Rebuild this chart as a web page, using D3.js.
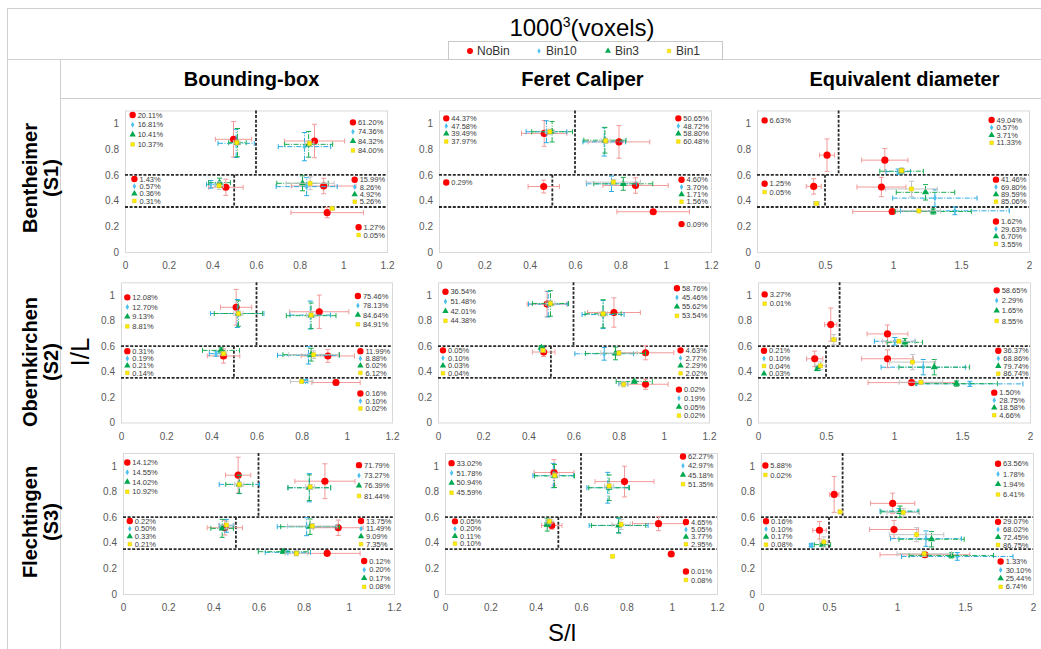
<!DOCTYPE html>
<html>
<head>
<meta charset="utf-8">
<script src="https://cdn.jsdelivr.net/npm/d3@7"></script>
<style>
  body { margin: 0; background: #fff; }
  svg { display: block; font-family: "Liberation Sans", Arial, sans-serif; }
</style>
</head>
<body>
<svg id="chart" width="1041" height="649"></svg>
<script>
// ---- data ----
const series = ['NoBin', 'Bin10', 'Bin3', 'Bin1'];
const methods = ['Bounding-box', 'Feret Caliper', 'Equivalent diameter'];
const samples = [['Bentheimer', '(S1)'], ['Obernkirchen', '(S2)'], ['Flechtingen', '(S3)']];
const xTicksBF = [0, 0.2, 0.4, 0.6, 0.8, 1, 1.2];
const xTicksED = [0, 0.5, 1, 1.5, 2];
const yTicks = [0, 0.2, 0.4, 0.6, 0.8, 1];

// [series, S/l, I/L, S/l error, I/L error]
const bbS1 = [
  [0, 0.497, 0.876, 0.083, 0.138], [1, 0.509, 0.845, 0.083, 0.11], [2, 0.515, 0.85, 0.04, 0.11], [3, 0.512, 0.85, 0.015, 0.02],
  [0, 0.868, 0.863, 0.138, 0.13], [1, 0.822, 0.819, 0.12, 0.11], [2, 0.841, 0.837, 0.11, 0.1], [3, 0.845, 0.845, 0.02, 0.02],
  [0, 0.462, 0.503, 0.079, 0.063], [1, 0.393, 0.526, 0.02, 0.03], [2, 0.433, 0.539, 0.05, 0.035], [3, 0.431, 0.516, 0.02, 0.03],
  [0, 0.91, 0.513, 0.148, 0.06], [1, 0.832, 0.508, 0.14, 0.07], [2, 0.813, 0.534, 0.118, 0.058], [3, 0.848, 0.534, 0.11, 0.05],
  [0, 0.926, 0.306, 0.166, 0.04], [3, 0.949, 0.339, 0.01, 0.01]
];
const fcS1 = [
  [0, 0.464, 0.922, 0.1, 0.1], [1, 0.474, 0.935, 0.09, 0.085], [2, 0.499, 0.935, 0.09, 0.08], [3, 0.489, 0.935, 0.02, 0.02],
  [0, 0.794, 0.856, 0.136, 0.127], [1, 0.729, 0.856, 0.094, 0.11], [2, 0.732, 0.869, 0.093, 0.1], [3, 0.735, 0.864, 0.02, 0.02],
  [0, 0.462, 0.509, 0.069, 0.05],
  [0, 0.867, 0.517, 0.144, 0.06], [1, 0.761, 0.53, 0.11, 0.06], [2, 0.813, 0.53, 0.13, 0.05], [3, 0.769, 0.543, 0.12, 0.02],
  [0, 0.945, 0.313, 0.16, 0.015]
];
const edS1 = [
  [0, 0.515, 0.753, 0.055, 0.126],
  [0, 0.94, 0.714, 0.17, 0.09], [1, 1.038, 0.625, 0.09, 0.02], [2, 1.063, 0.628, 0.16, 0.02], [3, 1.063, 0.633, 0.02, 0.02],
  [0, 0.417, 0.51, 0.055, 0.06], [3, 0.437, 0.378, 0.02, 0.01],
  [0, 0.915, 0.505, 0.18, 0.075], [1, 1.308, 0.419, 0.31, 0.065], [2, 1.239, 0.464, 0.215, 0.06], [3, 1.136, 0.49, 0.19, 0.06],
  [0, 0.994, 0.315, 0.29, 0.02], [1, 1.455, 0.32, 0.4, 0.03], [2, 1.296, 0.315, 0.28, 0.02], [3, 1.19, 0.32, 0.16, 0.015]
];
const bbS2 = [
  [0, 0.51, 0.904, 0.069, 0.14], [1, 0.515, 0.855, 0.118, 0.11], [2, 0.52, 0.855, 0.107, 0.1], [3, 0.52, 0.855, 0.02, 0.02],
  [0, 0.878, 0.869, 0.131, 0.131], [1, 0.838, 0.843, 0.09, 0.11], [2, 0.842, 0.838, 0.11, 0.1], [3, 0.842, 0.843, 0.02, 0.02],
  [0, 0.454, 0.522, 0.072, 0.056], [1, 0.421, 0.54, 0.03, 0.02], [2, 0.443, 0.566, 0.082, 0.02], [3, 0.454, 0.54, 0.015, 0.015],
  [0, 0.916, 0.522, 0.118, 0.05], [1, 0.83, 0.527, 0.137, 0.068], [2, 0.842, 0.532, 0.125, 0.05], [3, 0.853, 0.532, 0.11, 0.03],
  [0, 0.952, 0.314, 0.107, 0.02], [1, 0.817, 0.325, 0.01, 0.01], [3, 0.8, 0.322, 0.05, 0.01]
];
const fcS2 = [
  [0, 0.483, 0.929, 0.088, 0.1], [1, 0.488, 0.929, 0.087, 0.1], [2, 0.498, 0.934, 0.08, 0.1], [3, 0.498, 0.934, 0.02, 0.02],
  [0, 0.779, 0.863, 0.117, 0.115], [1, 0.731, 0.847, 0.093, 0.11], [2, 0.731, 0.853, 0.08, 0.11], [3, 0.731, 0.853, 0.02, 0.02],
  [0, 0.468, 0.553, 0.05, 0.035], [1, 0.461, 0.574, 0.01, 0.01], [2, 0.458, 0.587, 0.01, 0.01], [3, 0.465, 0.566, 0.01, 0.01],
  [0, 0.919, 0.547, 0.125, 0.055], [1, 0.736, 0.539, 0.13, 0.05], [2, 0.786, 0.542, 0.133, 0.05], [3, 0.801, 0.545, 0.08, 0.02],
  [0, 0.919, 0.3, 0.1, 0.04], [1, 0.82, 0.305, 0.02, 0.01], [2, 0.869, 0.321, 0.08, 0.01], [3, 0.822, 0.3, 0.02, 0.02]
];
const edS2 = [
  [0, 0.535, 0.768, 0.045, 0.13], [3, 0.557, 0.65, 0.02, 0.04],
  [0, 0.952, 0.695, 0.15, 0.07], [1, 1.006, 0.637, 0.15, 0.03], [2, 1.08, 0.629, 0.13, 0.03], [3, 1.036, 0.637, 0.12, 0.01],
  [0, 0.417, 0.5, 0.06, 0.06], [1, 0.44, 0.43, 0.01, 0.01], [2, 0.437, 0.421, 0.01, 0.01], [3, 0.459, 0.445, 0.04, 0.03],
  [0, 0.952, 0.5, 0.19, 0.07], [1, 1.215, 0.434, 0.31, 0.06], [2, 1.296, 0.434, 0.26, 0.06], [3, 1.136, 0.474, 0.17, 0.06],
  [0, 1.129, 0.313, 0.32, 0.02], [1, 1.558, 0.303, 0.39, 0.02], [2, 1.46, 0.305, 0.3, 0.02], [3, 1.198, 0.316, 0.16, 0.015]
];
const bbS3 = [
  [0, 0.51, 0.927, 0.056, 0.14], [1, 0.515, 0.855, 0.089, 0.072], [2, 0.515, 0.855, 0.06, 0.07], [3, 0.515, 0.855, 0.02, 0.02],
  [0, 0.894, 0.88, 0.133, 0.136], [1, 0.825, 0.829, 0.094, 0.11], [2, 0.825, 0.829, 0.095, 0.1], [3, 0.829, 0.836, 0.02, 0.02],
  [0, 0.451, 0.517, 0.078, 0.057], [1, 0.458, 0.532, 0.03, 0.05], [2, 0.439, 0.512, 0.05, 0.07], [3, 0.458, 0.538, 0.035, 0.03],
  [0, 0.953, 0.517, 0.11, 0.06], [1, 0.813, 0.525, 0.13, 0.07], [2, 0.828, 0.525, 0.13, 0.06], [3, 0.838, 0.53, 0.11, 0.02],
  [0, 0.904, 0.317, 0.146, 0.02], [1, 0.73, 0.325, 0.1, 0.01], [2, 0.709, 0.33, 0.11, 0.01], [3, 0.768, 0.317, 0.05, 0.02]
];
const fcS3 = [
  [0, 0.481, 0.948, 0.088, 0.1], [1, 0.478, 0.924, 0.09, 0.095], [2, 0.483, 0.921, 0.088, 0.09], [3, 0.484, 0.924, 0.02, 0.02],
  [0, 0.792, 0.877, 0.13, 0.12], [1, 0.718, 0.829, 0.092, 0.12], [2, 0.724, 0.829, 0.09, 0.1], [3, 0.724, 0.843, 0.02, 0.02],
  [0, 0.471, 0.535, 0.045, 0.03], [1, 0.456, 0.554, 0.01, 0.02], [2, 0.451, 0.541, 0.01, 0.05], [3, 0.461, 0.567, 0.015, 0.02],
  [0, 0.942, 0.549, 0.115, 0.055], [1, 0.766, 0.535, 0.13, 0.055], [2, 0.766, 0.535, 0.12, 0.06], [3, 0.777, 0.543, 0.04, 0.04],
  [0, 0.998, 0.312, 0, 0], [3, 0.739, 0.294, 0, 0]
];
const edS3 = [
  [0, 0.538, 0.777, 0.035, 0.14], [3, 0.582, 0.641, 0.01, 0.01],
  [0, 0.968, 0.707, 0.163, 0.08], [1, 1.015, 0.647, 0.14, 0.02], [2, 1.022, 0.641, 0.14, 0.045], [3, 1.046, 0.636, 0.12, 0.03],
  [0, 0.43, 0.497, 0.05, 0.068], [1, 0.369, 0.38, 0.01, 0.01], [2, 0.452, 0.385, 0.06, 0.01], [3, 0.462, 0.406, 0.03, 0.04],
  [0, 0.978, 0.503, 0.18, 0.07], [1, 1.213, 0.432, 0.26, 0.06], [2, 1.254, 0.427, 0.24, 0.06], [3, 1.144, 0.463, 0.2, 0.055],
  [0, 1.205, 0.306, 0.33, 0.02], [1, 1.443, 0.293, 0.41, 0.03], [2, 1.4, 0.301, 0.31, 0.02], [3, 1.2, 0.314, 0.2, 0.02]
];

// percentage of particles per class: [region, series, text]
const bbS1Pct = [
  ['UL', 0, '20.11%'], ['UL', 1, '16.81%'], ['UL', 2, '10.41%'], ['UL', 3, '10.37%'],
  ['UR', 0, '61.20%'], ['UR', 1, '74.36%'], ['UR', 2, '84.32%'], ['UR', 3, '84.00%'],
  ['ML', 0, '1.43%'], ['ML', 1, '0.57%'], ['ML', 2, '0.36%'], ['ML', 3, '0.31%'],
  ['MR', 0, '15.99%'], ['MR', 1, '8.26%'], ['MR', 2, '4.92%'], ['MR', 3, '5.26%'],
  ['LR', 0, '1.27%'], ['LR', 3, '0.05%']
];
const fcS1Pct = [
  ['UL', 0, '44.37%'], ['UL', 1, '47.58%'], ['UL', 2, '39.49%'], ['UL', 3, '37.97%'],
  ['UR', 0, '50.65%'], ['UR', 1, '48.72%'], ['UR', 2, '58.80%'], ['UR', 3, '60.48%'],
  ['ML', 0, '0.29%'],
  ['MR', 0, '4.60%'], ['MR', 1, '3.70%'], ['MR', 2, '1.71%'], ['MR', 3, '1.56%'],
  ['LR', 0, '0.09%']
];
const edS1Pct = [
  ['UL', 0, '6.63%'],
  ['UR', 0, '49.04%'], ['UR', 1, '0.57%'], ['UR', 2, '3.71%'], ['UR', 3, '11.33%'],
  ['ML', 0, '1.25%'], ['ML', 3, '0.05%'],
  ['MR', 0, '41.46%'], ['MR', 1, '69.80%'], ['MR', 2, '89.59%'], ['MR', 3, '85.06%'],
  ['LR', 0, '1.62%'], ['LR', 1, '29.63%'], ['LR', 2, '6.70%'], ['LR', 3, '3.55%']
];
const bbS2Pct = [
  ['UL', 0, '12.08%'], ['UL', 1, '12.70%'], ['UL', 2, '9.13%'], ['UL', 3, '8.81%'],
  ['UR', 0, '75.46%'], ['UR', 1, '78.13%'], ['UR', 2, '84.64%'], ['UR', 3, '84.91%'],
  ['ML', 0, '0.31%'], ['ML', 1, '0.19%'], ['ML', 2, '0.21%'], ['ML', 3, '0.14%'],
  ['MR', 0, '11.99%'], ['MR', 1, '8.88%'], ['MR', 2, '6.02%'], ['MR', 3, '6.12%'],
  ['LR', 0, '0.16%'], ['LR', 1, '0.10%'], ['LR', 3, '0.02%']
];
const fcS2Pct = [
  ['UL', 0, '36.54%'], ['UL', 1, '51.48%'], ['UL', 2, '42.01%'], ['UL', 3, '44.38%'],
  ['UR', 0, '58.76%'], ['UR', 1, '45.46%'], ['UR', 2, '55.62%'], ['UR', 3, '53.54%'],
  ['ML', 0, '0.05%'], ['ML', 1, '0.10%'], ['ML', 2, '0.03%'], ['ML', 3, '0.04%'],
  ['MR', 0, '4.63%'], ['MR', 1, '2.77%'], ['MR', 2, '2.29%'], ['MR', 3, '2.02%'],
  ['LR', 0, '0.02%'], ['LR', 1, '0.19%'], ['LR', 2, '0.05%'], ['LR', 3, '0.02%']
];
const edS2Pct = [
  ['UL', 0, '3.27%'], ['UL', 3, '0.01%'],
  ['UR', 0, '58.65%'], ['UR', 1, '2.29%'], ['UR', 2, '1.65%'], ['UR', 3, '8.55%'],
  ['ML', 0, '0.21%'], ['ML', 1, '0.10%'], ['ML', 3, '0.04%'], ['ML', 2, '0.03%'],
  ['MR', 0, '36.37%'], ['MR', 1, '68.86%'], ['MR', 2, '79.74%'], ['MR', 3, '86.74%'],
  ['LR', 0, '1.50%'], ['LR', 1, '28.75%'], ['LR', 2, '18.58%'], ['LR', 3, '4.66%']
];
const bbS3Pct = [
  ['UL', 0, '14.12%'], ['UL', 1, '14.55%'], ['UL', 2, '14.02%'], ['UL', 3, '10.92%'],
  ['UR', 0, '71.79%'], ['UR', 1, '73.27%'], ['UR', 2, '76.39%'], ['UR', 3, '81.44%'],
  ['ML', 0, '0.22%'], ['ML', 1, '0.50%'], ['ML', 2, '0.33%'], ['ML', 3, '0.21%'],
  ['MR', 0, '13.75%'], ['MR', 1, '11.49%'], ['MR', 2, '9.09%'], ['MR', 3, '7.35%'],
  ['LR', 0, '0.12%'], ['LR', 1, '0.20%'], ['LR', 2, '0.17%'], ['LR', 3, '0.08%']
];
const fcS3Pct = [
  ['UL', 0, '33.02%'], ['UL', 1, '51.78%'], ['UL', 2, '50.94%'], ['UL', 3, '45.59%'],
  ['UR', 0, '62.27%'], ['UR', 1, '42.97%'], ['UR', 2, '45.18%'], ['UR', 3, '51.35%'],
  ['ML', 0, '0.05%'], ['ML', 1, '0.20%'], ['ML', 2, '0.11%'], ['ML', 3, '0.10%'],
  ['MR', 0, '4.65%'], ['MR', 1, '5.05%'], ['MR', 2, '3.77%'], ['MR', 3, '2.95%'],
  ['LR', 0, '0.01%'], ['LR', 3, '0.08%']
];
const edS3Pct = [
  ['UL', 0, '5.88%'], ['UL', 3, '0.02%'],
  ['UR', 0, '63.56%'], ['UR', 1, '1.78%'], ['UR', 2, '1.94%'], ['UR', 3, '6.41%'],
  ['ML', 0, '0.16%'], ['ML', 1, '0.10%'], ['ML', 2, '0.17%'], ['ML', 3, '0.08%'],
  ['MR', 0, '29.07%'], ['MR', 1, '68.02%'], ['MR', 2, '72.45%'], ['MR', 3, '86.75%'],
  ['LR', 0, '1.33%'], ['LR', 1, '30.10%'], ['LR', 2, '25.44%'], ['LR', 3, '6.74%']
];

// ---- layout ----
// label block anchors per region, in data units: [x, first y, line step]
const pctLayout = [
  [ // S1
    {UL: [0.035, 1.065, 0.076], UR: [1.044, 1.008, 0.073], ML: [0.043, 0.568, 0.057], MR: [1.052, 0.562, 0.057], LR: [1.07, 0.192, 0.06]},
    {UL: [0.032, 1.039, 0.06], UR: [1.056, 1.039, 0.06], ML: [0.032, 0.54, 0.05], MR: [1.07, 0.562, 0.057], LR: [1.07, 0.217, 0.06]},
    {UL: [0.056, 1.023, 0.06], UR: [1.725, 1.026, 0.059], ML: [0.056, 0.531, 0.065], MR: [1.757, 0.5625, 0.057], LR: [1.757, 0.237, 0.058]}
  ],
  [ // S2
    {UL: [0.028, 0.982, 0.076], UR: [1.049, 0.992, 0.074], ML: [0.028, 0.56, 0.057], MR: [1.06, 0.56, 0.057], LR: [1.06, 0.228, 0.059]},
    {UL: [0.033, 1.026, 0.076], UR: [1.058, 1.053, 0.072], ML: [0.022, 0.566, 0.06], MR: [1.074, 0.566, 0.06], LR: [1.067, 0.258, 0.068]},
    {UL: [0.049, 1.005, 0.073], UR: [1.755, 1.037, 0.08], ML: [0.044, 0.563, 0.06], MR: [1.767, 0.563, 0.06], LR: [1.737, 0.234, 0.059]}
  ],
  [ // S3
    {UL: [0.019, 1.026, 0.076], UR: [1.045, 1.005, 0.08], ML: [0.03, 0.569, 0.06], MR: [1.054, 0.569, 0.06], LR: [1.068, 0.257, 0.067]},
    {UL: [0.029, 1.021, 0.077], UR: [1.05, 1.073, 0.072], ML: [0.044, 0.567, 0.058], MR: [1.063, 0.562, 0.058], LR: [1.063, 0.176, 0.066]},
    {UL: [0.032, 1.003, 0.074], UR: [1.743, 1.016, 0.08], ML: [0.037, 0.568, 0.061], MR: [1.743, 0.563, 0.06], LR: [1.762, 0.254, 0.066]}
  ]
];

const grid = [
  [bbS1, fcS1, edS1],
  [bbS2, fcS2, edS2],
  [bbS3, fcS3, edS3]
];
const gridPct = [
  [bbS1Pct, fcS1Pct, edS1Pct],
  [bbS2Pct, fcS2Pct, edS2Pct],
  [bbS3Pct, fcS3Pct, edS3Pct]
];

const plotLeft = [[125, 439, 757], [121, 438, 758], [123, 445, 761]];
const plotRight = [[387, 711, 1029], [392, 709, 1030], [394, 717, 1033]];
const plotTop = [110.5, 282.3, 453];
const plotBottom = [252, 422.5, 594];

const markerType = [d3.symbolCircle, d3.symbolDiamond, d3.symbolTriangle, d3.symbolSquare];
const markerSize = [40, 13, 22, 16];
const markerFill = ['#ff0000', '#4fc1ef', '#00a84f', '#ffee00'];
const markerStroke = ['none', 'none', 'none', '#d8c400'];
const errColor = ['#f29a9a', '#29abe2', '#19ad50', '#c4c4c4'];
const errDash = [null, '5,1.5,1,1.5', '5,1.5,1,1.5', null];

const svg = d3.select('#chart');
const lineColor = '#cfcfcf';

// ---- frame ----
const frame = svg.append('g').attr('stroke', lineColor).attr('fill', 'none');
frame.append('path').attr('d', 'M7,8.5H1041 M7,59.5H1041 M60,98.5H1041 M7.5,8V649 M60.5,59V649');

// ---- title & legend ----
const title = svg.append('text').attr('x', 582).attr('y', 36)
  .attr('text-anchor', 'middle').attr('font-size', 24).attr('fill', '#000');
title.append('tspan').text('1000');
title.append('tspan').attr('dy', -9).attr('font-size', 14).text('3');
title.append('tspan').attr('dy', 9).text('(voxels)');

svg.append('rect').attr('x', 448.5).attr('y', 41.5).attr('width', 274).attr('height', 18)
  .attr('fill', '#fff').attr('stroke', '#c8c8c8');
const legendX = [470, 539, 608, 669];
series.forEach((s, i) => {
  const g = svg.append('g').attr('transform', `translate(${legendX[i]},51)`);
  g.append('path').attr('d', d3.symbol().type(markerType[i]).size(markerSize[i] * 0.7)())
    .attr('fill', markerFill[i]).attr('stroke', markerStroke[i]).attr('stroke-width', 0.5);
  g.append('text').attr('x', 7).attr('dy', '0.35em').attr('font-size', 12)
    .attr('fill', '#333').text(s);
});

// ---- column and row headers ----
const headerX = [251.5, 582.5, 904.5];
methods.forEach((m, i) => {
  svg.append('text').attr('x', headerX[i]).attr('y', 86).attr('text-anchor', 'middle')
    .attr('font-size', 20).attr('font-weight', 'bold').attr('fill', '#000').text(m);
});
const rowCenter = [178, 362, 522];
samples.forEach((s, i) => {
  const t = svg.append('text').attr('transform', `translate(37,${rowCenter[i]}) rotate(-90)`)
    .attr('text-anchor', 'middle').attr('font-size', 20).attr('font-weight', 'bold').attr('fill', '#000');
  t.append('tspan').attr('x', 0).attr('y', 0).text(s[0]);
  t.append('tspan').attr('x', 0).attr('y', 21).text(s[1]);
});

svg.append('text').attr('transform', 'translate(89,352) rotate(-90)').attr('text-anchor', 'middle')
  .attr('font-size', 26).attr('fill', '#000').text('I/L');
svg.append('text').attr('x', 562).attr('y', 641).attr('text-anchor', 'middle')
  .attr('font-size', 24).attr('fill', '#000').text('S/l');

// ---- panels ----
grid.forEach((row, r) => {
  row.forEach((points, c) => {
    const isED = c === 2;
    const x = d3.scaleLinear().domain([0, isED ? 2 : 1.2]).range([plotLeft[r][c], plotRight[r][c]]);
    const y = d3.scaleLinear().domain([0, 1.1]).range([plotBottom[r], plotTop[r]]);
    const g = svg.append('g');

    g.append('rect').attr('x', x(0) + 0.5).attr('y', y(1.1) + 0.5)
      .attr('width', x.range()[1] - x.range()[0]).attr('height', y(0) - y(1.1))
      .attr('fill', 'none').attr('stroke', '#d9d9d9');

    const xAxis = g.append('g').attr('transform', `translate(0,${y(0)})`)
      .call(d3.axisBottom(x).tickValues(isED ? xTicksED : xTicksBF).tickSize(0).tickPadding(10)
        .tickFormat(d3.format('~g')));
    const yAxis = g.append('g').attr('transform', `translate(${x(0)},0)`)
      .call(d3.axisLeft(y).tickValues(yTicks).tickSize(0).tickPadding(6).tickFormat(d3.format('~g')));
    [xAxis, yAxis].forEach(a => {
      a.select('.domain').remove();
      a.selectAll('text').attr('font-size', 10).attr('fill', '#595959')
        .attr('font-family', '"Liberation Sans", Arial, sans-serif');
    });

    // class boundaries
    const dash = g.append('g').attr('stroke', '#2b2b2b').attr('stroke-width', 1.8)
      .attr('stroke-dasharray', '3,1.6').attr('fill', 'none');
    dash.append('line').attr('x1', x(0)).attr('x2', x.range()[1]).attr('y1', y(0.6)).attr('y2', y(0.6));
    dash.append('line').attr('x1', x(0)).attr('x2', x.range()[1]).attr('y1', y(0.35)).attr('y2', y(0.35));
    dash.append('line').attr('x1', x(0.6)).attr('x2', x(0.6)).attr('y1', y(1.1)).attr('y2', y(0.6));
    dash.append('line').attr('x1', x(0.5)).attr('x2', x(0.5)).attr('y1', y(0.6)).attr('y2', y(0.35));

    // error bars then markers, series by series
    series.forEach((s, si) => {
      const pts = points.filter(p => p[0] === si);
      const eb = g.append('g').attr('stroke', errColor[si]).attr('stroke-width', 1).attr('fill', 'none');
      pts.forEach(p => {
        const [, px, py, ex, ey] = p;
        const line = eb.append('g').attr('stroke-dasharray', errDash[si]);
        if (ex > 0) {
          line.append('line').attr('x1', x(px - ex)).attr('x2', x(px + ex)).attr('y1', y(py)).attr('y2', y(py));
          [px - ex, px + ex].forEach(v => eb.append('line').attr('x1', x(v)).attr('x2', x(v))
            .attr('y1', y(py) - 2.5).attr('y2', y(py) + 2.5));
        }
        if (ey > 0) {
          line.append('line').attr('x1', x(px)).attr('x2', x(px)).attr('y1', y(py - ey)).attr('y2', y(py + ey));
          [py - ey, py + ey].forEach(v => eb.append('line').attr('x1', x(px) - 2.5).attr('x2', x(px) + 2.5)
            .attr('y1', y(v)).attr('y2', y(v)));
        }
      });
      g.append('g').selectAll('path').data(pts).join('path')
        .attr('transform', p => `translate(${x(p[1])},${y(p[2])})`)
        .attr('d', d3.symbol().type(markerType[si]).size(markerSize[si])())
        .attr('fill', markerFill[si]).attr('stroke', markerStroke[si]).attr('stroke-width', 0.5);
    });

    // percentage labels
    const lay = pctLayout[r][c];
    const count = {};
    gridPct[r][c].forEach(([reg, si, txt]) => {
      const k = count[reg] || 0;
      count[reg] = k + 1;
      const [lx, ly, step] = lay[reg];
      const lg = g.append('g').attr('transform', `translate(${x(lx)},${y(ly - k * step)})`);
      lg.append('path').attr('d', d3.symbol().type(markerType[si]).size(markerSize[si] * 0.8)())
        .attr('fill', markerFill[si]).attr('stroke', markerStroke[si]).attr('stroke-width', 0.5);
      lg.append('text').attr('x', 5).attr('dy', '0.35em').attr('font-size', 7.5)
        .attr('fill', '#3a3a3a').text(txt);
    });
  });
});
</script>
</body>
</html>
